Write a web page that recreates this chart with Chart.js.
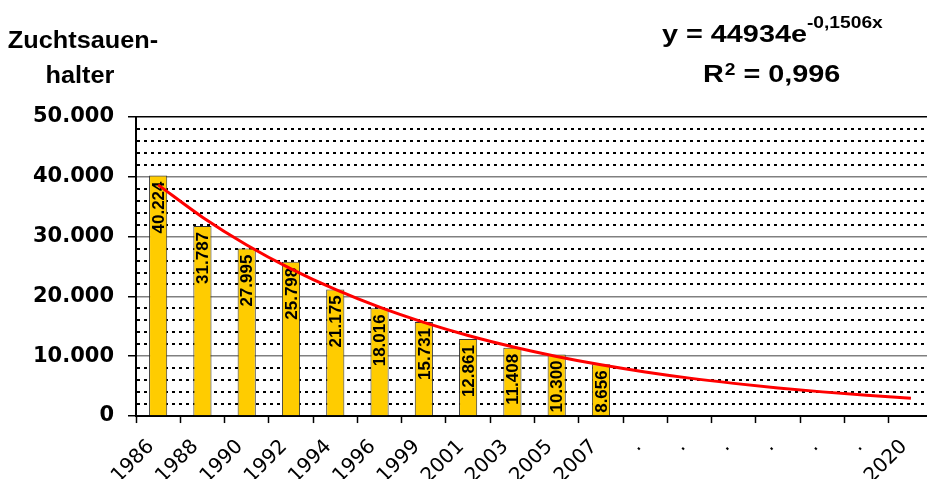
<!DOCTYPE html>
<html>
<head>
<meta charset="utf-8">
<script src="https://cdn.jsdelivr.net/npm/chart.js@4.4.1/dist/chart.umd.min.js"></script>
<style>
    html, body { margin: 0; padding: 0; background: #fff; overflow: hidden; }
    #wrap { position: relative; width: 927px; height: 479px; overflow: hidden; }
    #chart { position: absolute; left: 0; top: 0; }
</style>
</head>
<body>
<div id="wrap"><canvas id="chart" width="940" height="479"></canvas></div>
<script>
// Categories along the x axis (years, then placeholders up to 2020)
const years = ['1986', '1988', '1990', '1992', '1994', '1996', '1999', '2001', '2003', '2005', '2007',
               '.', '.', '.', '.', '.', '.', '2020'];

// Number of sow holders (bars)
const sowHolders = [40224, 31787, 27995, 25798, 21175, 18016, 15731, 12861, 11408, 10300, 8656,
                    null, null, null, null, null, null, null];

// Exponential trend line
const trendLine = [38650, 33250, 28600, 24600, 21160, 18200, 15660, 13470, 11590, 9970, 8570,
                   7370, 6340, 5460, 4690, 4040, 3470, 2990];

const yMax = 50000;
const yMinorStep = 2000;
const yMajorStep = 10000;

function fmt(v) {
    return String(v).replace(/\B(?=(\d{3})+(?!\d))/g, '.');
}

function drawText(ctx, text, x, y, font, sx, align) {
    ctx.save();
    ctx.font = font;
    const w = ctx.measureText(text).width * sx;
    ctx.translate(x, y);
    ctx.scale(sx, 1);
    ctx.textAlign = align || 'left';
    ctx.textBaseline = 'alphabetic';
    ctx.fillText(text, 0, 0);
    ctx.restore();
    return w;
}

const labelPlugin = {
    id: 'labels',
    afterDatasetDraw(chart, args) {
        if (args.index !== 0) return;
        const ctx = chart.ctx;
        ctx.save();
        ctx.font = 'bold 17px "Liberation Sans", Arial, sans-serif';
        ctx.fillStyle = '#000';
        ctx.textAlign = 'right';
        ctx.textBaseline = 'middle';
        args.meta.data.forEach((bar, i) => {
            const v = sowHolders[i];
            if (v == null) return;
            ctx.save();
            ctx.translate(bar.x + 1, bar.y + 6);
            ctx.rotate(-Math.PI / 2);
            ctx.fillText(fmt(v), 0, 0);
            ctx.restore();
        });
        ctx.restore();
    },
    afterDraw(chart) {
        const ctx = chart.ctx;
        ctx.save();
        ctx.fillStyle = '#000';
        const big = 'bold 23px "Liberation Sans", Arial, sans-serif';
        drawText(ctx, 'Zuchtsauen-', 83, 48, big, 1.1, 'center');
        drawText(ctx, 'halter', 80, 83, big, 1.1, 'center');

        const eq = 'bold 24px "Liberation Sans", Arial, sans-serif';
        const sup = 'bold 16px "Liberation Sans", Arial, sans-serif';
        let x = 662;
        x += drawText(ctx, 'y = 44934e', x, 42, eq, 1.2);
        drawText(ctx, '-0,1506x', x, 28, sup, 1.2);

        x = 703;
        x += drawText(ctx, 'R', x, 82, eq, 1.2);
        x += drawText(ctx, '2', x + 1, 75, sup, 1.2);
        drawText(ctx, ' = 0,996', x + 1, 82, eq, 1.2);
        ctx.restore();
    }
};

const isMajor = v => v % yMajorStep === 0;

new Chart(document.getElementById('chart'), {
    type: 'bar',
    data: {
        labels: years,
        datasets: [
            {
                label: 'Zuchtsauenhalter',
                data: sowHolders,
                backgroundColor: '#FFCC00',
                borderColor: '#333333',
                borderWidth: 1,
                barPercentage: 0.41,
                categoryPercentage: 1,
                order: 1
            },
            {
                type: 'line',
                label: 'Trend',
                data: trendLine,
                borderColor: '#FF0000',
                borderWidth: 3,
                pointRadius: 0,
                fill: false,
                cubicInterpolationMode: 'monotone',
                order: 0
            }
        ]
    },
    options: {
        responsive: false,
        animation: false,
        layout: { padding: { top: 117, right: 3, left: 0, bottom: -21 } },
        plugins: {
            legend: { display: false },
            tooltip: { enabled: false }
        },
        scales: {
            x: {
                offset: true,
                grid: {
                    offset: true,
                    drawOnChartArea: false,
                    tickLength: 7,
                    tickColor: '#000',
                    tickWidth: 1.5
                },
                border: { color: '#000', width: 2 },
                ticks: {
                    autoSkip: false,
                    maxRotation: 45,
                    minRotation: 45,
                    labelOffset: -7,
                    color: '#000',
                    padding: 12,
                    font: { family: '"DejaVu Sans", Verdana, sans-serif', size: 20 }
                }
            },
            y: {
                min: 0,
                max: yMax,
                ticks: {
                    stepSize: yMinorStep,
                    autoSkip: false,
                    color: '#000',
                    padding: 14,
                    font: { family: '"DejaVu Sans", Verdana, sans-serif', size: 21, weight: 'bold' },
                    callback: v => isMajor(v) ? fmt(v) : ''
                },
                grid: {
                    color: c => {
                        if (!c.tick) return '#000';
                        if (c.tick.value === yMax) return '#000';
                        return isMajor(c.tick.value) ? '#808080' : '#000';
                    },
                    lineWidth: c => (c.tick && isMajor(c.tick.value)) ? 1.5 : 2,
                    tickColor: c => (c.tick && isMajor(c.tick.value)) ? '#000' : 'rgba(0,0,0,0)',
                    tickLength: 8,
                    tickWidth: 1.5
                },
                border: {
                    color: '#000',
                    width: 2,
                    dash: c => (c.tick && !isMajor(c.tick.value)) ? [3, 4] : []
                },
                afterFit(scale) { scale.width = 136; }
            }
        }
    },
    plugins: [labelPlugin]
});
</script>
</body>
</html>
